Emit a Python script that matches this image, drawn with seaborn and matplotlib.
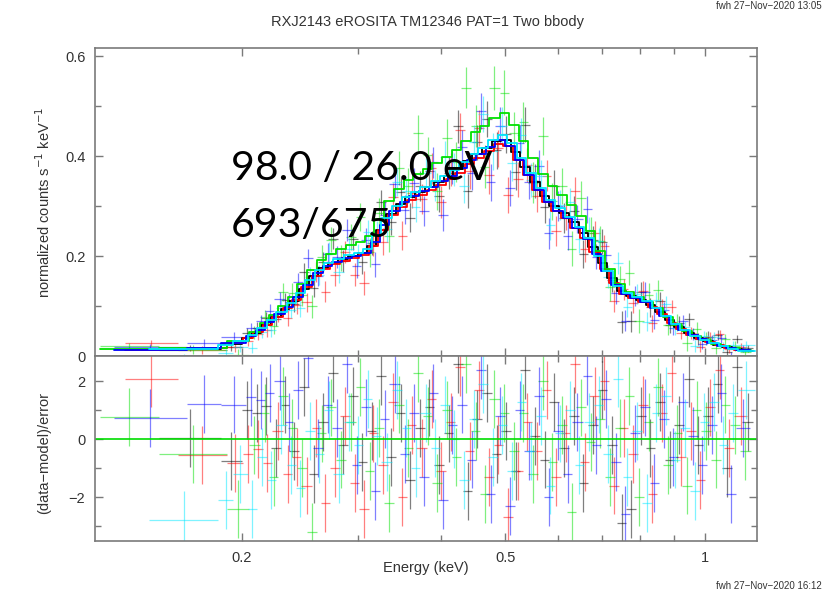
import numpy as np
import pandas as pd
import matplotlib
matplotlib.use("Agg")
import matplotlib.pyplot as plt
import seaborn as sns
from matplotlib.ticker import FixedLocator, FixedFormatter, NullFormatter

# values: bin edges (keV), model (counts/s/keV),
# 1-sigma error (counts/s/keV) and (data-model)/error per bin
tm_names = ["TM1", "TM2", "TM3", "TM4", "TM6"]
tm_colors = ["#000000", "#ff0000", "#00e000", "#0000ff", "#00e8ff"]

edges_tm1 = [0.150, 0.186, 0.200, 0.207, 0.214, 0.221, 0.229, 0.236, 0.244, 0.253,
             0.261, 0.270, 0.279, 0.289, 0.299, 0.309, 0.319, 0.330, 0.342, 0.353,
             0.365, 0.378, 0.390, 0.404, 0.417, 0.432, 0.446, 0.461, 0.477, 0.493,
             0.510, 0.527, 0.545, 0.564, 0.583, 0.603, 0.623, 0.645, 0.666, 0.689,
             0.713, 0.737, 0.762, 0.788, 0.815, 0.842, 0.871, 0.900, 0.931, 0.963,
             0.995, 1.029, 1.064, 1.100, 1.138, 1.185]
edges_tm2 = [0.133, 0.160, 0.190, 0.201, 0.208, 0.215, 0.222, 0.231, 0.238, 0.246,
             0.255, 0.263, 0.272, 0.281, 0.291, 0.301, 0.311, 0.321, 0.332, 0.344,
             0.355, 0.367, 0.381, 0.393, 0.407, 0.420, 0.435, 0.449, 0.464, 0.480,
             0.496, 0.513, 0.531, 0.549, 0.568, 0.587, 0.607, 0.627, 0.649, 0.670,
             0.694, 0.718, 0.742, 0.767, 0.793, 0.820, 0.848, 0.877, 0.906, 0.937,
             0.969, 1.002, 1.036, 1.071, 1.107, 1.160]
edges_tm3 = [0.122, 0.150, 0.190, 0.205, 0.213, 0.220, 0.227, 0.235, 0.242, 0.251,
             0.260, 0.268, 0.277, 0.287, 0.297, 0.307, 0.317, 0.328, 0.339, 0.351,
             0.363, 0.375, 0.388, 0.401, 0.415, 0.428, 0.444, 0.458, 0.473, 0.490,
             0.506, 0.524, 0.541, 0.560, 0.579, 0.599, 0.619, 0.640, 0.662, 0.684,
             0.708, 0.732, 0.757, 0.783, 0.809, 0.837, 0.865, 0.895, 0.924, 0.956,
             0.989, 1.022, 1.057, 1.093, 1.130, 1.175]
edges_tm4 = [0.128, 0.165, 0.186, 0.203, 0.210, 0.217, 0.224, 0.232, 0.239, 0.247,
             0.256, 0.265, 0.274, 0.283, 0.293, 0.303, 0.313, 0.323, 0.334, 0.347,
             0.358, 0.370, 0.383, 0.395, 0.409, 0.423, 0.438, 0.452, 0.467, 0.483,
             0.500, 0.517, 0.534, 0.552, 0.572, 0.591, 0.611, 0.631, 0.654, 0.675,
             0.698, 0.723, 0.747, 0.772, 0.799, 0.826, 0.853, 0.883, 0.912, 0.944,
             0.976, 1.008, 1.043, 1.078, 1.115, 1.170]
edges_tm6 = [0.145, 0.184, 0.194, 0.204, 0.211, 0.218, 0.225, 0.234, 0.241, 0.249,
             0.258, 0.266, 0.275, 0.285, 0.295, 0.305, 0.315, 0.325, 0.337, 0.349,
             0.360, 0.372, 0.386, 0.398, 0.412, 0.425, 0.441, 0.455, 0.470, 0.487,
             0.503, 0.520, 0.538, 0.556, 0.575, 0.595, 0.615, 0.636, 0.658, 0.680,
             0.703, 0.727, 0.752, 0.777, 0.804, 0.832, 0.859, 0.889, 0.918, 0.950,
             0.983, 1.015, 1.050, 1.086, 1.122, 1.190]

model_tm1 = [0.015, 0.024, 0.036, 0.047, 0.062, 0.078, 0.094, 0.111, 0.135, 0.160,
             0.177, 0.187, 0.195, 0.201, 0.206, 0.220, 0.253, 0.285, 0.304, 0.318,
             0.329, 0.338, 0.348, 0.360, 0.374, 0.391, 0.404, 0.417, 0.431, 0.433,
             0.408, 0.379, 0.348, 0.321, 0.301, 0.286, 0.268, 0.247, 0.219, 0.186,
             0.156, 0.131, 0.120, 0.113, 0.103, 0.089, 0.073, 0.059, 0.046, 0.037,
             0.030, 0.023, 0.018, 0.014, 0.011]
model_tm2 = [0.013, 0.016, 0.026, 0.036, 0.048, 0.063, 0.079, 0.096, 0.113, 0.138,
             0.161, 0.175, 0.184, 0.191, 0.197, 0.203, 0.220, 0.253, 0.282, 0.299,
             0.312, 0.323, 0.333, 0.343, 0.354, 0.367, 0.384, 0.396, 0.410, 0.424,
             0.420, 0.393, 0.362, 0.333, 0.308, 0.290, 0.276, 0.257, 0.236, 0.208,
             0.174, 0.146, 0.125, 0.116, 0.108, 0.098, 0.084, 0.067, 0.054, 0.043,
             0.034, 0.028, 0.022, 0.017, 0.013]
model_tm3 = [0.014, 0.017, 0.031, 0.049, 0.066, 0.083, 0.101, 0.119, 0.144, 0.173,
             0.193, 0.205, 0.215, 0.222, 0.228, 0.240, 0.274, 0.310, 0.335, 0.352,
             0.364, 0.374, 0.386, 0.398, 0.413, 0.431, 0.448, 0.461, 0.476, 0.487,
             0.463, 0.430, 0.396, 0.365, 0.340, 0.323, 0.302, 0.280, 0.250, 0.210,
             0.174, 0.144, 0.129, 0.119, 0.109, 0.096, 0.079, 0.063, 0.051, 0.041,
             0.032, 0.025, 0.020, 0.016, 0.012]
model_tm4 = [0.013, 0.016, 0.026, 0.040, 0.053, 0.068, 0.084, 0.099, 0.118, 0.143,
             0.166, 0.180, 0.189, 0.196, 0.201, 0.207, 0.229, 0.263, 0.291, 0.308,
             0.320, 0.330, 0.339, 0.350, 0.361, 0.377, 0.392, 0.405, 0.418, 0.432,
             0.420, 0.392, 0.363, 0.333, 0.308, 0.291, 0.276, 0.257, 0.235, 0.204,
             0.171, 0.143, 0.125, 0.116, 0.108, 0.097, 0.081, 0.065, 0.053, 0.042,
             0.034, 0.027, 0.021, 0.016, 0.012]
model_tm6 = [0.014, 0.022, 0.031, 0.043, 0.056, 0.072, 0.089, 0.107, 0.127, 0.153,
             0.173, 0.186, 0.195, 0.202, 0.207, 0.215, 0.242, 0.277, 0.301, 0.318,
             0.329, 0.339, 0.350, 0.361, 0.373, 0.388, 0.404, 0.417, 0.432, 0.443,
             0.426, 0.397, 0.366, 0.336, 0.313, 0.296, 0.279, 0.259, 0.236, 0.201,
             0.170, 0.141, 0.126, 0.118, 0.110, 0.096, 0.080, 0.065, 0.052, 0.041,
             0.033, 0.026, 0.020, 0.015, 0.011]

# error bars of TM1/2/4/6 are about the same, TM3 a bit larger
err_tm1246 = [0.006, 0.008, 0.010, 0.011, 0.012, 0.014, 0.015, 0.016, 0.018, 0.019,
              0.020, 0.021, 0.022, 0.022, 0.023, 0.024, 0.025, 0.027, 0.028, 0.029,
              0.030, 0.030, 0.031, 0.032, 0.033, 0.034, 0.035, 0.036, 0.037, 0.037,
              0.036, 0.035, 0.034, 0.032, 0.031, 0.030, 0.029, 0.028, 0.027, 0.025,
              0.023, 0.022, 0.021, 0.020, 0.019, 0.017, 0.016, 0.014, 0.013, 0.012,
              0.011, 0.010, 0.009, 0.008, 0.007]
err_tm3 = [0.007, 0.009, 0.012, 0.013, 0.014, 0.017, 0.018, 0.019, 0.022, 0.023,
           0.024, 0.025, 0.026, 0.026, 0.028, 0.029, 0.030, 0.032, 0.034, 0.035,
           0.036, 0.036, 0.037, 0.038, 0.040, 0.041, 0.042, 0.043, 0.044, 0.045,
           0.043, 0.042, 0.041, 0.038, 0.037, 0.036, 0.035, 0.034, 0.032, 0.030,
           0.028, 0.026, 0.025, 0.024, 0.023, 0.020, 0.019, 0.017, 0.016, 0.014,
           0.013, 0.012, 0.011, 0.010, 0.008]

resid_tm1 = [0.05, -0.75, 1.0, 0.9, 1.15, -0.3, 1.2, -0.4, 1.8, -1.2,
             0.6, 2.3, -0.2, 1.5, -0.8, 0.3, 2.2, -0.6, 0.9, -1.4,
             0.4, 1.1, -0.9, 0.2, 2.6, -1.8, 0.7, 1.6, -0.5, 0.3,
             -1.1, 2.4, 0.1, -0.7, 1.3, -0.3, 0.8, -1.5, 0.5, 1.7,
             -0.2, -2.9, -2.4, 0.8, -0.3, 1.3, -0.7, 0.5, 2.1, -0.2,
             0.8, 1.9, -1.0, 2.5, 0.6]
resid_tm2 = [2.1, -0.54, -0.82, -0.5, -0.34, -0.82, 0.3, -1.2, -0.6, -1.6,
             0.4, -2.2, -1.0, 0.8, -1.5, -2.4, 0.2, -0.9, 1.3, -2.0,
             0.5, -0.3, 1.4, -1.1, 0.6, 2.5, -0.4, 1.7, -1.3, -0.2,
             -2.7, -1.1, 0.6, -0.4, 1.7, -1.3, 0.2, 2.6, -0.8, 1.5,
             2.0, -1.6, 0.4, -0.5, 1.2, -1.9, 0.9, 2.3, -0.6, 0.3,
             -1.4, 1.1, 2.4, -0.3, 0.8]
resid_tm3 = [0.78, -0.5, -2.4, -0.2, 0.9, -1.3, 1.5, 0.4, -1.0, -3.2,
             0.2, 1.1, -0.7, 0.6, 1.8, -1.1, 0.4, -2.2, 1.2, -0.3,
             2.3, 0.8, -1.5, 1.0, -0.6, 2.6, 0.3, -1.9, 1.4, 0.9,
             -0.4, 0.9, -1.2, 2.0, -0.8, 0.5, -2.5, 1.1, -0.1, 0.7,
             -1.3, 0.4, 1.5, -2.0, 0.6, 1.8, -0.9, 0.2, -1.6, 1.0,
             0.3, -0.7, 1.2, 0.5, -0.4]
resid_tm4 = [0.73, 1.22, 1.2, 1.45, 1.36, 1.6, 2.0, 0.6, 1.7, 2.8,
             -0.3, 1.2, 0.4, 2.6, -0.9, 1.1, -1.8, 0.7, 1.9, -0.5,
             0.9, -1.3, 1.6, -2.1, 0.5, 1.2, -0.7, 2.4, -1.9, 0.8,
             -2.3, 1.0, -0.4, 1.5, -2.0, 0.3, -1.2, 0.6, 2.2, -0.2,
             1.4, -0.8, -2.6, 0.2, 1.1, -1.5, 0.7, -0.6, 1.3, 0.1,
             -0.9, 0.5, 1.6, -1.9, 0.4]
resid_tm6 = [-2.8, -2.1, -1.2, -2.4, -0.6, -1.4, 0.5, -0.9, -1.7, 0.3,
             -0.5, 1.0, -1.2, 0.6, -0.2, 1.4, 0.1, -0.8, 1.7, 0.4,
             -1.0, 0.9, -0.3, 1.2, 0.0, -1.4, 0.7, 1.9, -0.6, 0.5,
             -1.1, 1.3, -0.4, 0.8, -1.6, 0.2, 1.0, -0.9, 0.6, 1.2,
             -0.5, 2.1, -1.3, 0.3, -2.2, 0.9, 1.5, -0.7, 0.4, -1.8,
             0.6, 1.3, -0.2, 0.9, 1.7]

title = "RXJ2143 eROSITA TM12346 PAT=1 Two bbody"
note1 = "98.0 / 26.0 eV"
note2 = "693/675"

all_edges = [edges_tm1, edges_tm2, edges_tm3, edges_tm4, edges_tm6]
all_model = [model_tm1, model_tm2, model_tm3, model_tm4, model_tm6]
all_err = [err_tm1246, err_tm1246, err_tm3, err_tm1246, err_tm1246]
all_resid = [resid_tm1, resid_tm2, resid_tm3, resid_tm4, resid_tm6]

sns.set_style("ticks")
plt.rcParams["font.family"] = ["Liberation Sans", "DejaVu Sans"]
frame = "#7a7a7a"
txt = "#333333"

fig = plt.figure(figsize=(8.27, 5.92), dpi=100)
ax1 = fig.add_axes([0.1149, 0.3986, 0.8005, 0.5203])
ax2 = fig.add_axes([0.1149, 0.0861, 0.8005, 0.3125], sharex=ax1)
ax1.set_xscale("log")

# data crosses and residuals
steps = []
for name, col, e, m, er, r in zip(tm_names, tm_colors, all_edges, all_model, all_err, all_resid):
    e = np.array(e)
    m = np.array(m)
    er = np.array(er)
    r = np.array(r)
    lo, hi = e[:-1], e[1:]
    cen = np.sqrt(lo * hi)
    dat = m + r * er
    xerr = [cen - lo, hi - cen]
    ax1.errorbar(cen, dat, xerr=xerr, yerr=er, fmt="none", ecolor=col,
                 elinewidth=0.9, alpha=0.5, capsize=0)
    ax2.errorbar(cen, r, xerr=xerr, yerr=1.0, fmt="none", ecolor=col,
                 elinewidth=0.9, alpha=0.5, capsize=0)
    steps.append(pd.DataFrame({"energy": e, "model": np.append(m, m[-1]), "tm": name}))

model_df = pd.concat(steps, ignore_index=True)
sns.lineplot(data=model_df, x="energy", y="model", hue="tm", palette=tm_colors,
             hue_order=tm_names, estimator=None, sort=False, legend=False,
             drawstyle="steps-post", lw=1.3, ax=ax1)

ax2.axhline(0, color="#00dd00", lw=1.2)

ax1.set_xlim(0.12, 1.2)
ax1.set_ylim(0, 0.617)
ax2.set_ylim(-3.52, 2.88)

ax2.xaxis.set_major_locator(FixedLocator([0.2, 0.5, 1.0]))
ax2.xaxis.set_major_formatter(FixedFormatter(["0.2", "0.5", "1"]))
ax2.xaxis.set_minor_locator(FixedLocator([0.3, 0.4, 0.6, 0.7, 0.8, 0.9]))
ax2.xaxis.set_minor_formatter(NullFormatter())

ax1.set_yticks([0, 0.2, 0.4, 0.6], ["0", "0.2", "0.4", "0.6"])
ax1.set_yticks([0.1, 0.3, 0.5], minor=True)
ax2.set_yticks([-2, 0, 2], ["\u22122", "0", "2"])
ax2.set_yticks([-3, -1, 1], minor=True)

for ax in (ax1, ax2):
    ax.set_xlabel("")
    ax.set_ylabel("")
    for sp in ax.spines.values():
        sp.set_color(frame)
        sp.set_linewidth(1.2)
        sp.set_visible(True)
    ax.tick_params(which="both", direction="in", top=True, right=True,
                   color=frame, labelcolor=txt, labelsize=10.5, width=1.0)
    ax.tick_params(which="major", length=6, pad=7)
    ax.tick_params(which="minor", length=4)
ax1.tick_params(labelbottom=False)

fig.text(0.517, 0.962, title, ha="center", va="center", fontsize=10.5, color=txt)
fig.text(0.515, 0.040, "Energy (keV)", ha="center", va="center", fontsize=10.5, color=txt)
fig.text(0.053, 0.659, "normalized counts s$^{-1}$ keV$^{-1}$", rotation=90,
         ha="center", va="center", fontsize=10.5, color=txt)
fig.text(0.053, 0.235, "(data\u2212model)/error", rotation=90,
         ha="center", va="center", fontsize=10.5, color=txt)

fig.text(0.2793, 0.696, note1, fontsize=29.5, family=["Lato", "DejaVu Sans"],
         va="baseline", ha="left", color="black")
fig.text(0.2793, 0.600, note2, fontsize=29.5, family=["Lato", "DejaVu Sans"],
         va="baseline", ha="left", color="black")

# run stamps in the page corners
fig.text(0.866, 0.999, "fwh 27\u2212Nov\u22122020 13:05", fontsize=7, color=txt,
         va="top", ha="left")
fig.text(0.866, 0.002, "fwh 27\u2212Nov\u22122020 16:12", fontsize=7, color=txt,
         va="bottom", ha="left")

fig.savefig("out.png", dpi=100)
